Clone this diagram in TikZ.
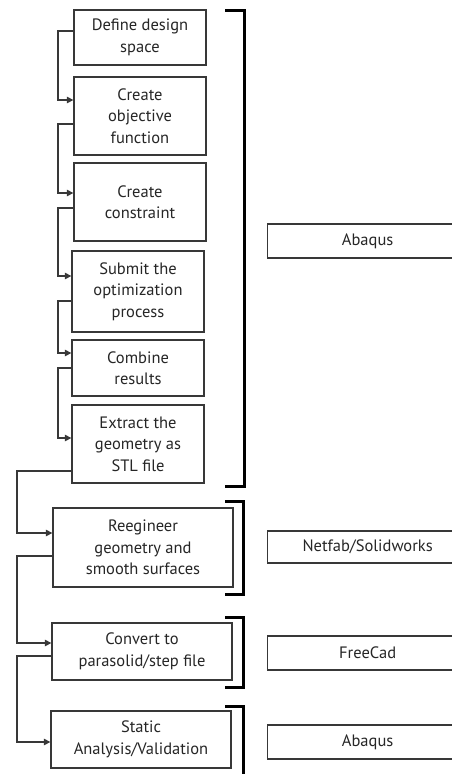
\documentclass[tikz,border=0pt]{standalone}
\usepackage{fontspec}
\setmainfont{PT Sans}
\usetikzlibrary{arrows.meta}
\definecolor{ink}{HTML}{383838}
\definecolor{txt}{HTML}{262626}
\tikzset{
  stepbox/.style={draw=ink, line width=1.3pt, text=txt, align=center, inner sep=0pt,
    font=\fontsize{16.5}{21.5}\selectfont},
  toolbox/.style={draw=ink, line width=1.3pt, text=txt, anchor=west, inner sep=0pt,
    minimum width=200pt, font=\fontsize{16.5}{21.5}\selectfont},
  conn/.style={draw=ink, line width=1.3pt, -{Triangle[length=6.5pt,width=6.5pt]}},
  brack/.style={draw=black, line width=3pt},
}
\begin{document}
\begin{tikzpicture}[x=1pt,y=-1pt]
\useasboundingbox (0,0) rectangle (452,774);
\clip (0,0) rectangle (452,774);
\fill[white] (0,0) rectangle (452,774);
% step boxes
\node[stepbox, minimum width=132pt, minimum height=55pt] (b1) at (140,37.5) {Define design\\space};
\node[stepbox, minimum width=132pt, minimum height=78pt] (b2) at (140,116) {Create\\objective\\function};
\node[stepbox, minimum width=132pt, minimum height=78pt] (b3) at (140,202) {Create\\constraint};
\node[stepbox, minimum width=132pt, minimum height=81pt] (b4) at (138,291.5) {Submit the\\optimization\\process};
\node[stepbox, minimum width=132pt, minimum height=56pt] (b5) at (138,368) {Combine\\results};
\node[stepbox, minimum width=132pt, minimum height=78pt] (b6) at (138,444) {Extract the\\geometry as\\STL file};
\node[stepbox, minimum width=180pt, minimum height=79pt] (b7) at (143,547.5) {Reegineer\\geometry and\\smooth surfaces};
\node[stepbox, minimum width=180pt, minimum height=57pt] (b8) at (142,651.5) {Convert to\\parasolid/step file};
\node[stepbox, minimum width=180pt, minimum height=57pt] (b9) at (141,739.5) {Static\\Analysis/Validation};
% tool boxes
\node[toolbox, minimum height=34pt] (t1) at (267,241) {\makebox[176pt]{Abaqus}};
\node[toolbox, minimum height=32pt] (t2) at (267,547) {\makebox[176pt]{Netfab/Solidworks}};
\node[toolbox, minimum height=34pt] (t3) at (267,653) {\makebox[176pt]{FreeCad}};
\node[toolbox, minimum height=34pt] (t4) at (267,742) {\makebox[176pt]{Abaqus}};
% brackets
\coordinate (k1a) at (225,10); \coordinate (k1b) at (244,10);
\coordinate (k1c) at (244,486); \coordinate (k1d) at (225,486);
\draw[brack] (k1a) -- (k1b) -- (k1c) -- (k1d);
\coordinate (k2a) at (225,501); \coordinate (k2b) at (243,501);
\coordinate (k2c) at (243,594); \coordinate (k2d) at (225,594);
\draw[brack] (k2a) -- (k2b) -- (k2c) -- (k2d);
\coordinate (k3a) at (225,617); \coordinate (k3b) at (243,617);
\coordinate (k3c) at (243,687); \coordinate (k3d) at (225,687);
\draw[brack] (k3a) -- (k3b) -- (k3c) -- (k3d);
\coordinate (k4a) at (225,706); \coordinate (k4b) at (243,706);
\coordinate (k4c) at (243,790);
\draw[brack] (k4a) -- (k4b) -- (k4c);
% connectors
\draw[conn] (b1.west |- 0,31) -| (58,100) -- (b2.west |- 0,100);
\draw[conn] (b2.west |- 0,124) -| (58,193) -- (b3.west |- 0,193);
\draw[conn] (b3.west |- 0,208) -| (58,276) -- (b4.west |- 0,276);
\draw[conn] (b4.west |- 0,301) -| (58,353) -- (b5.west |- 0,353);
\draw[conn] (b5.west |- 0,368) -| (58,438) -- (b6.west |- 0,438);
\draw[conn] (b6.west |- 0,471) -| (17,533) -- (b7.west |- 0,533);
\draw[conn] (b7.west |- 0,556) -| (17,643) -- (b8.west |- 0,643);
\draw[conn] (b8.west |- 0,656) -| (17,742) -- (b9.west |- 0,742);
\end{tikzpicture}
\end{document}
